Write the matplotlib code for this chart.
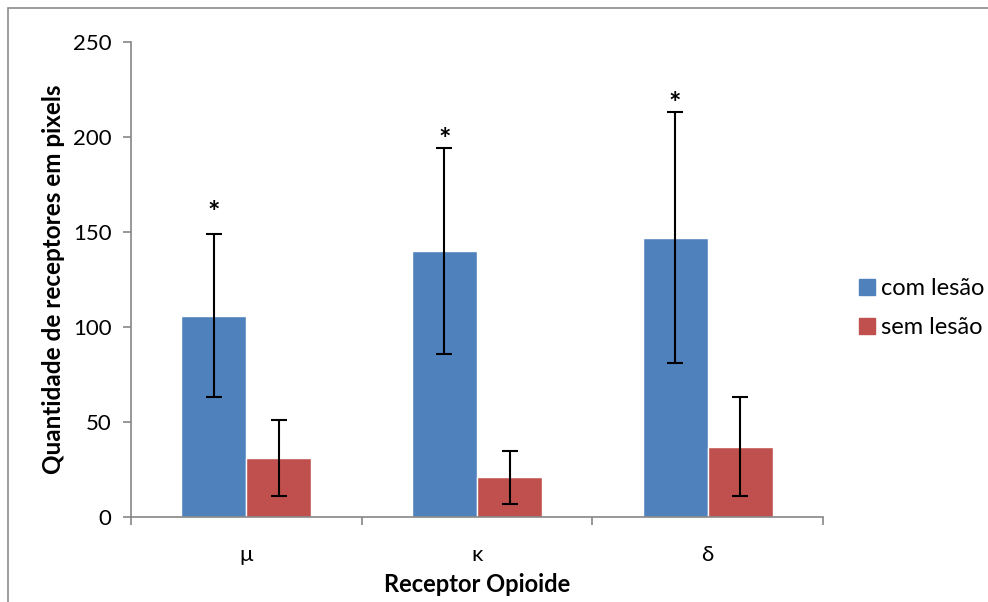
import matplotlib
matplotlib.use("Agg")
import matplotlib.pyplot as plt
from matplotlib.patches import Rectangle
from matplotlib.lines import Line2D
import numpy as np

plt.rcParams['font.family'] = ['Lato', 'DejaVu Sans']

categories = ['μ', 'κ', 'δ']
com_lesao = [106, 140, 147]
com_lesao_err = [43, 54, 66]
sem_lesao = [31, 21, 37]
sem_lesao_err = [20, 14, 26]
star_y = [164, 202.5, 221.5]

blue = '#4F81BD'
red = '#C0504D'
axis_gray = '#868686'

fig = plt.figure(figsize=(9.88, 6.02), dpi=100)
ax = fig.add_axes([131/988, 1-517/602, (823-131)/988, (517-42)/602])

# outer chart border (Excel style), open to the right and bottom
fig.patches.append(Rectangle((8/988, -0.05), 1.2, 1-8/602+0.05, transform=fig.transFigure,
                             fill=False, edgecolor='#8c8c8c', linewidth=1.2))

x = np.arange(len(categories))
w = 0.282
ax.bar(x - w/2, com_lesao, w, color=blue, edgecolor='white', linewidth=1, zorder=2)
ax.bar(x + w/2, sem_lesao, w, color=red, edgecolor='white', linewidth=1, zorder=2)
ax.errorbar(x - w/2, com_lesao, yerr=com_lesao_err, fmt='none', ecolor='black',
            elinewidth=1.5, capsize=6, capthick=1.5, zorder=3)
ax.errorbar(x + w/2, sem_lesao, yerr=sem_lesao_err, fmt='none', ecolor='black',
            elinewidth=1.5, capsize=6, capthick=1.5, zorder=3)
for xi, yi in zip(x - w/2, star_y):
    ax.text(xi, yi - 4, '*', ha='center', va='center', fontsize=21,
            fontweight='bold', color='black')

ax.set_xlim(-0.5, len(categories) - 0.5)
ax.set_ylim(0, 250)
ax.set_yticks(range(0, 251, 50))
ax.set_xticks(x)
ax.set_xticklabels(categories, fontsize=16)
ax.set_xticks(np.arange(-0.5, len(categories)), minor=True)
ax.tick_params(axis='x', which='major', length=0, pad=20)
ax.tick_params(axis='x', which='minor', length=6, color=axis_gray, width=1.2)
ax.tick_params(axis='y', length=6, color=axis_gray, width=1.2, labelsize=16, pad=8)

for s in ['top', 'right']:
    ax.spines[s].set_visible(False)
for s in ['left', 'bottom']:
    ax.spines[s].set_color(axis_gray)
    ax.spines[s].set_linewidth(1.2)

ax.set_ylabel('Quantidade de receptores em pixels', fontsize=17.5, fontweight='bold', labelpad=6)
ax.set_xlabel('Receptor Opioide', fontsize=17, fontweight='bold', labelpad=6)

handles = [Line2D([], [], marker='s', linestyle='none', markersize=11, color=blue),
           Line2D([], [], marker='s', linestyle='none', markersize=11, color=red)]
fig.legend(handles, ['com lesão', 'sem lesão'], loc='center left',
           bbox_to_anchor=(834/988, 1-308/602), frameon=False, fontsize=17,
           handletextpad=0.1, labelspacing=0.75, handlelength=1.0)

fig.savefig('out.png', dpi=100)
